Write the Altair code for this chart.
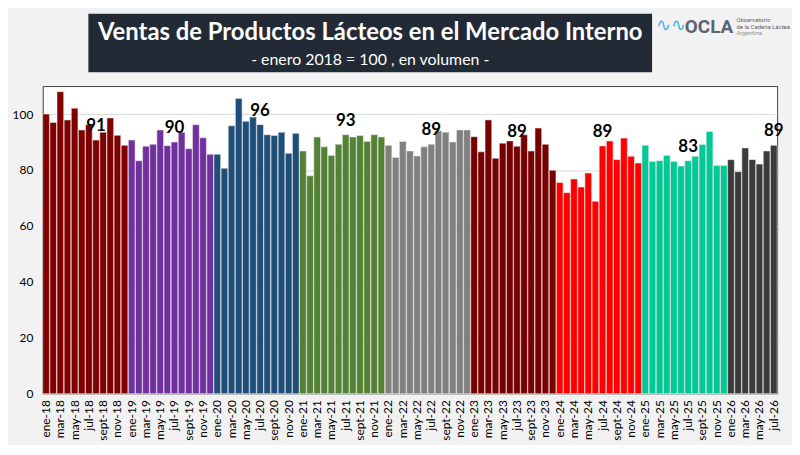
import altair as alt
import pandas as pd

# monthly index, enero 2018 = 100
years = [2018, 2019, 2020, 2021, 2022, 2023, 2024, 2025, 2026]
month_abbr = ["ene", "feb", "mar", "abr", "may", "jun", "jul", "ago", "sept", "oct", "nov", "dic"]

v2018 = [100, 97.0, 108.0, 97.9, 102.1, 94.3, 96.2, 90.7, 93.5, 98.6, 92.4, 88.8]
v2019 = [90.7, 83.3, 88.5, 89.2, 94.3, 88.7, 90.0, 93.5, 87.6, 96.2, 91.5, 85.6]
v2020 = [85.6, 80.6, 95.8, 105.6, 97.4, 98.9, 96.2, 92.6, 92.3, 93.5, 86.0, 93.1]
v2021 = [86.8, 77.9, 91.8, 88.3, 85.2, 89.2, 92.6, 91.8, 92.3, 90.2, 92.6, 91.8]
v2022 = [88.8, 84.5, 90.2, 86.8, 85.0, 88.3, 89.2, 94.0, 93.5, 90.0, 94.3, 94.3]
v2023 = [91.9, 86.5, 97.9, 84.2, 89.6, 90.4, 88.5, 92.6, 86.8, 95.0, 89.2, 79.9]
v2024 = [75.5, 71.9, 76.8, 73.9, 78.9, 68.8, 88.6, 90.4, 83.7, 91.4, 84.9, 82.5]
v2025 = [88.8, 83.0, 83.3, 85.2, 83.0, 81.4, 83.3, 84.9, 89.1, 93.8, 81.6, 81.6]
v2026 = [83.7, 79.4, 87.9, 83.7, 82.1, 86.8, 88.8]

year_colors = ["#800000", "#7030a0", "#1f4e79", "#548235", "#808080",
               "#780000", "#ff0000", "#00c896", "#3b3b3b"]

label_months = ["ago-18", "jul-19", "jul-20", "jul-21", "jul-22", "jul-23", "jul-24", "jul-25", "jul-26"]
label_texts = ["91", "90", "96", "93", "89", "89", "89", "83", "89"]

#%% build table
rows = []
for yr, vals in zip(years, [v2018, v2019, v2020, v2021, v2022, v2023, v2024, v2025, v2026]):
    for m, v in zip(month_abbr, vals):
        rows.append({"mes": f"{m}-{str(yr)[2:]}", "anio": str(yr), "valor": v})
df = pd.DataFrame(rows)
months = list(df["mes"])

lab = pd.DataFrame({"mes": label_months, "txt": label_texts})
lab = lab.merge(df[["mes", "valor"]], on="mes")

FONT = "Lato"

x_enc = alt.X("mes:N", sort=months, title=None,
              scale=alt.Scale(paddingInner=0.06, paddingOuter=0),
              axis=alt.Axis(values=months[::2], labelAngle=-90, labelAlign="right",
                            labelBaseline="middle", labelPadding=6, ticks=False,
                            domain=False, labelFontSize=12, labelColor="black",
                            labelFont=FONT))

bars = alt.Chart(df).mark_bar(stroke="#e6e6e6", strokeWidth=0.6).encode(
    x=x_enc,
    y=alt.Y("valor:Q", title=None,
            scale=alt.Scale(domain=[0, 110], nice=False),
            axis=alt.Axis(values=[0, 20, 40, 60, 80, 100], gridColor="#d9d9d9",
                          ticks=False, domain=False, labelFontSize=12,
                          labelColor="black", labelFont=FONT, labelPadding=10)),
    color=alt.Color("anio:N", scale=alt.Scale(domain=[str(y) for y in years],
                                              range=year_colors), legend=None),
)

labels = alt.Chart(lab).mark_text(fontSize=17, fontWeight="bold", font=FONT,
                                  color="black", baseline="alphabetic", dy=-9).encode(
    x=alt.X("mes:N", sort=months),
    y="valor:Q",
    text="txt:N",
)

one = pd.DataFrame({"k": [0]})

# header box drawn above the plot area
title_box = alt.Chart(one).mark_rect(color="#222a35").encode(
    x=alt.value(46), x2=alt.value(614), y=alt.value(-73), y2=alt.value(-14)
)
title_txt = alt.Chart(one).mark_text(color="white", fontSize=24, fontWeight="bold", font=FONT).encode(
    x=alt.value(330), y=alt.value(-53), text=alt.value("Ventas de Productos Lácteos en el Mercado Interno")
)
sub_txt = alt.Chart(one).mark_text(color="white", fontSize=16, font=FONT).encode(
    x=alt.value(330), y=alt.value(-26), text=alt.value("- enero 2018 = 100 , en volumen -")
)

# logo
wave = alt.Chart(one).mark_text(color="#41b6e6", fontSize=18, font="DejaVu Sans").encode(
    x=alt.value(633), y=alt.value(-60), text=alt.value("∿∿")
)
ocla = alt.Chart(one).mark_text(color="#5a6470", fontSize=19, fontWeight="bold",
                                font="Roboto", align="left").encode(
    x=alt.value(647), y=alt.value(-59), text=alt.value("OCLA")
)
obs1 = alt.Chart(one).mark_text(color="#5a6470", fontSize=6, font="Roboto", align="left").encode(
    x=alt.value(699), y=alt.value(-67), text=alt.value("Observatorio")
)
obs2 = alt.Chart(one).mark_text(color="#5a6470", fontSize=6, font="Roboto", align="left").encode(
    x=alt.value(699), y=alt.value(-60), text=alt.value("de la Cadena Láctea")
)
obs3 = alt.Chart(one).mark_text(color="#8a939c", fontSize=6, font="Roboto", align="left").encode(
    x=alt.value(699), y=alt.value(-53), text=alt.value("Argentina")
)

chart = alt.layer(bars, labels, title_box, title_txt, sub_txt, wave, ocla, obs1, obs2, obs3).properties(
    width=740,
    height=310,
    autosize=alt.AutoSizeParams(type="none"),
    padding={"left": 35, "top": 77, "right": 15, "bottom": 50},
    background="#f2f2f2",
).configure_view(
    fill="white", stroke="#404040", strokeWidth=1
)

chart.save("out.html", embed_options={"renderer": "svg", "actions": False})
